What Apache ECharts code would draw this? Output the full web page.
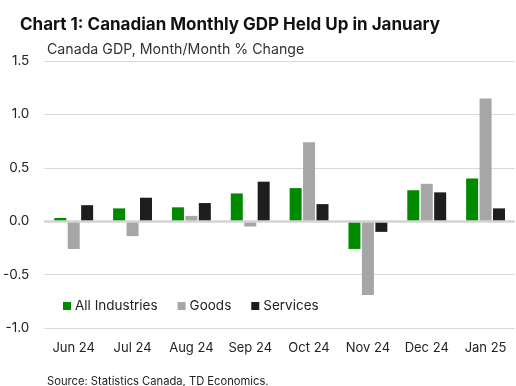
<!DOCTYPE html>
<html><head><meta charset="utf-8">
<script src="https://cdn.jsdelivr.net/npm/echarts@6/dist/echarts.min.js"></script>
<style>html,body{margin:0;padding:0;background:#fff}#c{width:516px;height:386px}</style>
</head><body><div id="c"></div>
<script>
const categories = ["Jun 24","Jul 24","Aug 24","Sep 24","Oct 24","Nov 24","Dec 24","Jan 25"];
const allIndustries = [0.03, 0.12, 0.13, 0.26, 0.31, -0.26, 0.29, 0.40];
const goods = [-0.26, -0.14, 0.05, -0.05, 0.74, -0.69, 0.35, 1.15];
const services = [0.15, 0.22, 0.17, 0.37, 0.16, -0.10, 0.27, 0.12];
const seriesNames = ["All Industries","Goods","Services"];
const colors = ["#008a00","#a6a6a6","#1e1e1e"];
const FONT = "Inter";
const chart = echarts.init(document.getElementById('c'), null, {renderer:'canvas'});
const mk = (name, data, color, extra) => Object.assign({
  name, type:'bar', data, itemStyle:{color},
  barWidth: 12, barGap: '12%', silent:true
}, extra||{});
chart.setOption({
  animation:false,
  textStyle:{fontFamily:FONT},
  title:[
    {text:"Chart 1: Canadian Monthly GDP Held Up in January", left:15, top:11,
     textStyle:{fontFamily:FONT, fontWeight:'bold', fontSize:17, color:'#111'}},
    {text:"Canada GDP, Month/Month % Change", left:42, top:38,
     textStyle:{fontFamily:FONT, fontWeight:'normal', fontSize:14.2, color:'#333'}},
    {text:"Source: Statistics Canada, TD Economics.", left:42, top:371,
     textStyle:{fontFamily:FONT, fontWeight:'normal', fontSize:11.2, color:'#222'}}
  ],
  legend:{
    data:seriesNames, left:58, top:294, icon:'rect', itemWidth:8, itemHeight:8, itemGap:20,
    textStyle:{fontFamily:FONT, fontSize:13.5, color:'#222', padding:[0,0,0,-1]}
  },
  grid:{left:43, right:1, top:61, bottom:58, containLabel:false},
  xAxis:{type:'category', data:categories, axisLine:{show:false}, axisTick:{show:false},
    axisLabel:{interval:0, fontFamily:FONT, fontSize:13, color:'#222', margin:14}},
  yAxis:{type:'value', min:-1, max:1.5, interval:0.5,
    axisLine:{show:false}, axisTick:{show:false},
    axisLabel:{fontFamily:FONT, fontSize:13.5, color:'#222', margin:15, formatter:v=>v.toFixed(1)},
    splitLine:{lineStyle:{color:'#d9d9d9', width:1}}},
  series:[
    mk(seriesNames[0], allIndustries, colors[0], {markLine:{silent:true, symbol:'none', label:{show:false},
      lineStyle:{color:'#d4d4d4', width:2.5, type:'solid'}, data:[{yAxis:0}]}}),
    mk(seriesNames[1], goods, colors[1]),
    mk(seriesNames[2], services, colors[2])
  ]
});
</script></body></html>
